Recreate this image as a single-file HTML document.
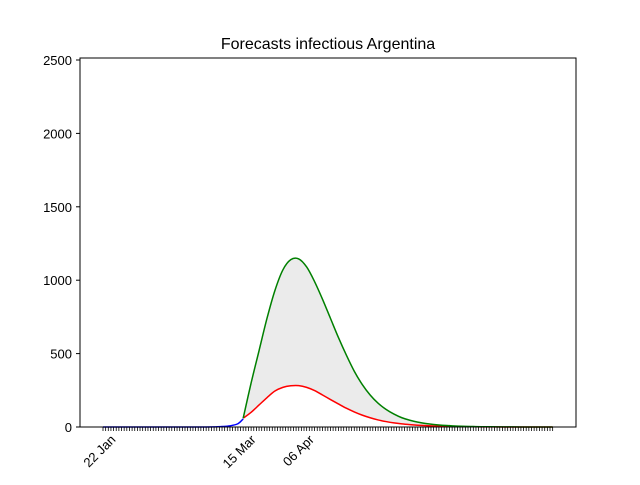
<!DOCTYPE html>
<html><head><meta charset="utf-8"><style>
body{margin:0;background:#fff}
svg{font-family:"Liberation Sans","DejaVu Sans",sans-serif}
</style></head><body>
<svg id="chart" width="640" height="480">
<rect width="640" height="480" fill="#fff"/>
<text x="328" y="49" text-anchor="middle" font-size="16">Forecasts infectious Argentina</text>
<g id="plot"></g>
<rect x="80" y="58" width="496" height="369" fill="none" stroke="#000" stroke-width="1"/>
</svg>
<script>
const blueDays=[0,3,6,9,12,15,18,21,24,27,30,33,36,39,42,45,48,51,53];
const blueVals=[0,0,0,0,0,0,0,0,0,0,0,0,0,0,1,3,8,22,55];
const fcDays=[53,56,59,62,65,68,71,74,77,80,83,86,89,92,95,98,101,104,107,110,113,116,119,122,125,128,131,134,137,140,143,146,149,152,155,158,161,164,167,170];
const greenVals=[60,300,520,740,930,1070,1140,1145,1090,990,870,740,610,490,380,290,218,162,120,88,63,46,33,24,17,12,9,6,4,3,2,1.5,1,0.7,0.5,0.3,0.2,0.1,0.1,0.1];
const redVals=[60,100,150,200,245,270,281,282,270,248,218,187,157,128,103,81,63,48,37,28,21,16,12,9,7,5,4,3,2,1.5,1,0.7,0.5,0.3,0.2,0.1,0.1,0.1,0,0];
const yTicks=[0,500,1000,1500,2000,2500];
const xLabelDays=[0,53,75];
const xLabels=["22 Jan","15 Mar","06 Apr"];
const nDays=171;
const NS="http://www.w3.org/2000/svg";
const X=d=>103+d*2.645;
const Y=v=>427-v*(73.4/500);
const g=document.getElementById('plot');
function mk(t,a){const e=document.createElementNS(NS,t);for(const k in a)e.setAttribute(k,a[k]);g.appendChild(e);return e;}
function smooth(ds,vs){
 const p=ds.map((d,i)=>[X(d),Y(vs[i])]);
 let s='M'+p[0][0]+','+p[0][1];
 for(let i=0;i<p.length-1;i++){
  const p0=p[i-1]||p[i],p1=p[i],p2=p[i+1],p3=p[i+2]||p2;
  const c1=[p1[0]+(p2[0]-p0[0])/6,p1[1]+(p2[1]-p0[1])/6];
  const c2=[p2[0]-(p3[0]-p1[0])/6,p2[1]-(p3[1]-p1[1])/6];
  s+=` C${c1[0]},${c1[1]} ${c2[0]},${c2[1]} ${p2[0]},${p2[1]}`;
 }
 return s;
}
let fp=fcDays.map((d,i)=>X(d)+','+Y(greenVals[i])).join(' ')+' '+fcDays.slice().reverse().map((d,i)=>X(d)+','+Y(redVals[redVals.length-1-i])).join(' ');
const fill=mk('polygon',{points:fp,fill:'#ebebeb',stroke:'none'});


const bl=mk('path',{d:smooth(blueDays,blueVals),fill:'none',stroke:'#0000ff','stroke-width':1.5});


const rl=mk('path',{d:smooth(fcDays,redVals),fill:'none',stroke:'#ff0000','stroke-width':1.5});


const gl=mk('path',{d:smooth(fcDays,greenVals),fill:'none',stroke:'#008000','stroke-width':1.5});


yTicks.forEach(v=>{
 const t=mk('line',{x1:76,x2:80,y1:Y(v),y2:Y(v),stroke:'#000'});
 
 
 const l=mk('text',{x:72,y:Y(v)+5,'text-anchor':'end','font-size':13});
 l.textContent=v;
 
 
});
for(let d=0;d<nDays;d++){
 const t=mk('line',{x1:X(d),x2:X(d),y1:427,y2:431,stroke:'#000','stroke-width':0.8});
 
 
}
xLabelDays.forEach((d,i)=>{
 const x=X(d)+7,y=434;
 const l=mk('text',{x:x,y:y,'text-anchor':'end','font-size':13,transform:`rotate(-45 ${x} ${y})`,dy:'0.7em'});
 l.textContent=xLabels[i];
 
 
});
</script>
</body></html>
